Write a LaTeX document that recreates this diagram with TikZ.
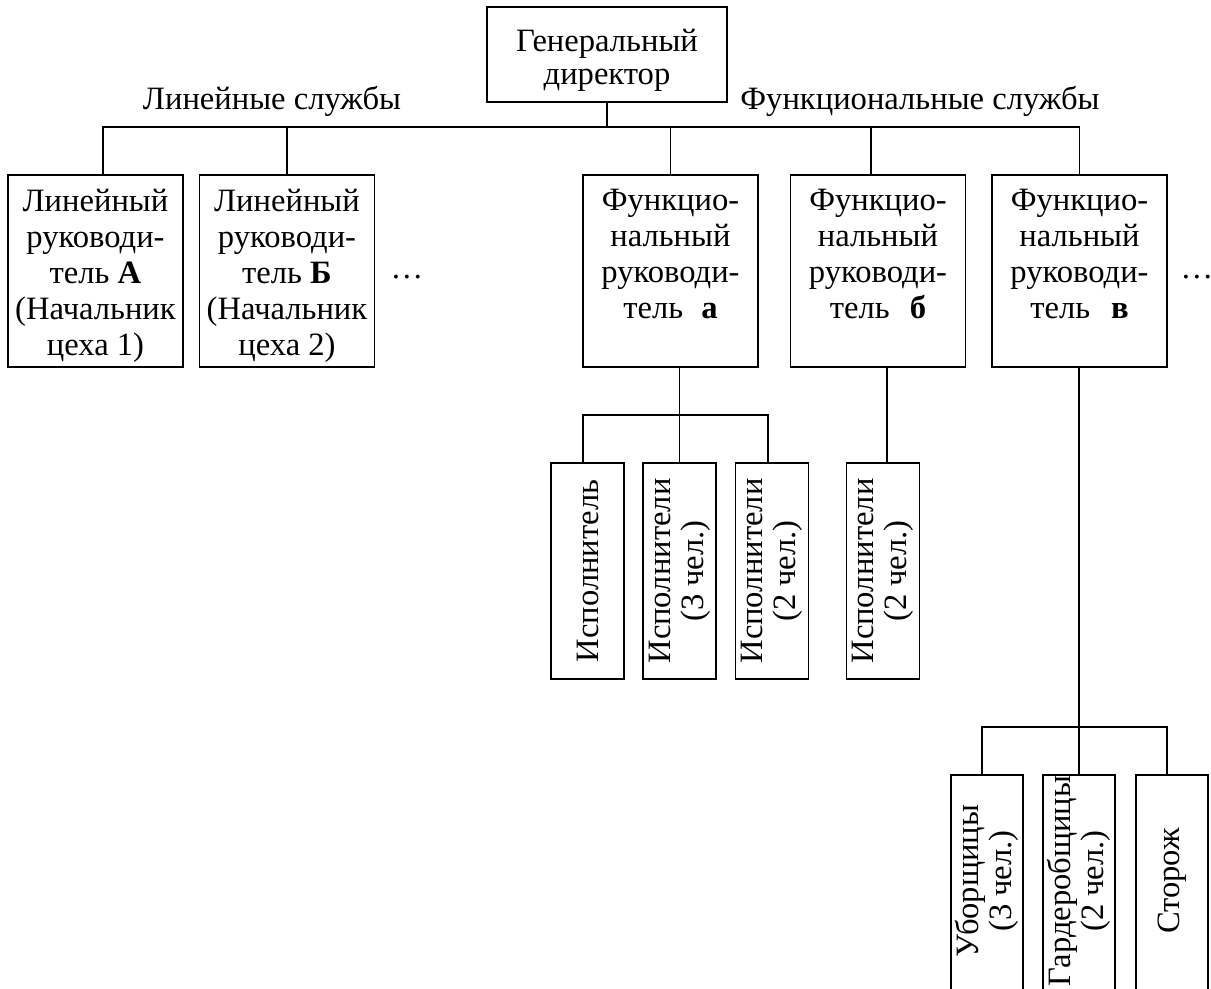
\documentclass[tikz,border=0pt]{standalone}
\usepackage{fontspec}
\setmainfont{Liberation Serif}
\begin{document}
\begin{tikzpicture}[x=0.5pt,y=-0.5pt,line width=0.9pt,
  hbox/.style={draw,inner sep=0pt,minimum width=87.5pt,minimum height=96pt},
  vbox/.style={draw,inner sep=0pt,minimum width=36.5pt,minimum height=108pt},
  ubox/.style={draw,inner sep=0pt,minimum width=36pt,minimum height=110pt},
  txt/.style={inner sep=0pt,align=center,font=\fontsize{16.3}{18}\selectfont},
  rtxt/.style={inner sep=0pt,rotate=90,align=center,font=\fontsize{16.3}{16.5}\selectfont},
  lbl/.style={inner sep=0pt,anchor=base,font=\fontsize{16.3}{18}\selectfont}]
\clip (0,0) rectangle (1211,989);
\useasboundingbox (0,0) rectangle (1211,989);

% top
\node[draw,inner sep=0pt,minimum width=120pt,minimum height=47.5pt] (gd) at (607,54.5) {};
\node[txt,font=\fontsize{16.3}{16.8}\selectfont] (tgd) at ([yshift=-3pt]gd.center) {Генеральный\\директор};
\node[lbl] (ll) at (272,110) {Линейные службы};
\node[lbl] (fl) at (920,110) {Функциональные службы};

% second level
\node[hbox] (lA) at (95.5,271) {};
\node[hbox] (lB) at (287,271) {};
\node[hbox] (fa) at (670.5,271) {};
\node[hbox] (fb) at (878,271) {};
\node[hbox] (fv) at (1079.5,271) {};

\node[txt,anchor=north] (tA) at ([yshift=-7.3pt]lA.north) {Линейный\\руководи-\\тель \textbf{А}\\(Начальник\\цеха 1)};
\node[txt,anchor=north] (tB) at ([yshift=-7.3pt]lB.north) {Линейный\\руководи-\\тель \textbf{Б}\\(Начальник\\цеха 2)};
\node[txt,anchor=north] (ta) at ([yshift=-7.3pt]fa.north) {Функцио-\\нальный\\руководи-\\тель\hspace{9pt}\textbf{а}};
\node[txt,anchor=north] (tb) at ([yshift=-7.3pt]fb.north) {Функцио-\\нальный\\руководи-\\тель\hspace{10pt}\textbf{б}};
\node[txt,anchor=north] (tv) at ([yshift=-7.3pt]fv.north) {Функцио-\\нальный\\руководи-\\тель\hspace{10.5pt}\textbf{в}};

\node[lbl] (d1) at (407,279) {…};
\node[lbl] (d2) at (1197,279) {…};

% executors
\node[vbox] (e1) at (587.5,571) {};
\node[vbox] (e2) at (679.5,571) {};
\node[vbox] (e3) at (772,571) {};
\node[vbox] (e4) at (883,571) {};
\node[rtxt] at (e1) {Исполнитель};
\node[rtxt] at (e2) {Исполнители\\(3 чел.)};
\node[rtxt] at (e3) {Исполнители\\(2 чел.)};
\node[rtxt] at (e4) {Исполнители\\(2 чел.)};

% staff
\node[ubox] (u1) at (987,885) {};
\node[ubox] (u2) at (1079,885) {};
\node[ubox] (u3) at (1172,885) {};
\node[rtxt] at ([yshift=2pt]u1) {Уборщицы\\(3 чел.)};
\node[rtxt] at ([yshift=2pt]u2) {Гардеробщицы\\(2 чел.)};
\node[rtxt] at ([yshift=2pt]u3) {Сторож};

% connectors
\coordinate (bus) at (gd.south |- 0,127);
\draw (gd.south) -- (bus);
\draw ([xshift=3.75pt]lA.north) |- (bus);
\draw (fv.north) |- (bus);
\draw (lB.north) -- (lB.north |- bus);
\draw (fa.north) -- (fa.north |- bus);
\draw ([xshift=-3.5pt]fb.north) -- ([xshift=-3.5pt]fb.north |- bus);

\coordinate (busa) at (e2.north |- 0,415);
\draw (fa.south -| e2.north) -- (e2.north);
\draw ([xshift=-2.25pt]e1.north) |- (busa) -| ([xshift=-2pt]e3.north);

\draw ([xshift=2pt]e4.north) -- ([xshift=2pt]e4.north |- fb.south);

\coordinate (busv) at (u2.north |- 0,727);
\draw (fv.south -| u2.north) -- (u2.north);
\draw ([xshift=-2.5pt]u1.north) |- (busv) -| ([xshift=-2.5pt]u3.north);
\end{tikzpicture}
\end{document}
